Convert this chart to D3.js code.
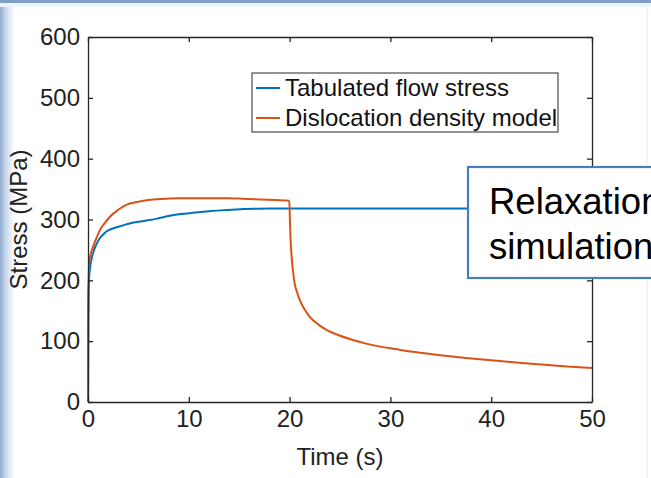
<!DOCTYPE html>
<html>
<head>
    <meta charset="utf-8" />
    <script src="https://d3js.org/d3.v7.min.js"></script>
    <title></title>
    <style>
        body { margin: 0; background: #fff; }
        text { font-family: "Liberation Sans", Arial, Helvetica, sans-serif; }
    </style>
</head>
<body>
    <svg id="chart"></svg>
    <script type="text/javascript">
        // tabulated flow stress (time s, stress MPa)
        var timeTab = [0, 0.02, 0.05, 0.1, 0.2, 0.35, 0.5, 0.8, 1.2, 1.6, 2.0, 2.6, 3.2, 3.8, 4.5, 5.3, 6.1, 7.0, 8.1, 9.2, 10.4, 11.7, 13.1, 14.7, 16.4, 18, 20, 30, 40, 50];
        var stressTab = [0, 120, 175, 200, 220, 235, 245, 258, 270, 277, 282, 286, 289, 292, 295, 297, 299, 302, 306, 309, 311, 313, 315, 316.5, 317.5, 318, 318, 318, 318, 318];

        // dislocation density model (loading, then relaxation from t = 20 s)
        var timeDis = [0, 0.03, 0.08, 0.15, 0.3, 0.5, 0.8, 1.2, 1.7, 2.2, 3.0, 3.8, 4.6, 5.5, 6.5, 7.7, 9, 10.4, 12, 13.8, 15.5, 17.1, 18.5, 19.97,
            20.03, 20.1, 20.2, 20.37, 20.5, 20.75, 21, 21.5, 22, 22.8, 23.7, 25, 26.3, 27.6, 29, 30.5, 32, 35, 37.5, 40, 42.5, 45, 47.5, 50];
        var stressDis = [0, 150, 210, 232, 245, 255, 268, 283, 295, 305, 316, 324, 328, 331, 333, 334, 335, 335, 335, 335, 334, 333, 332, 331,
            300, 266, 239, 211, 195, 180, 168, 152, 140, 128, 118, 109, 102, 96, 91, 87, 83, 77, 72.5, 68.5, 65, 61.5, 58.5, 56];

        var xTicks = [0, 10, 20, 30, 40, 50];
        var yTicks = [0, 100, 200, 300, 400, 500, 600];
        var legendLabels = ["Tabulated flow stress", "Dislocation density model"];
        var noteLines = ["Relaxation", "simulation"];

        var W = 651, H = 478;
        var pLeft = 88, pRight = 592, pTop = 37, pBottom = 402;
        var blue = "#0072BD", orange = "#D95319", axisCol = "#262626";

        var svg = d3.select("#chart").attr("width", W).attr("height", H);

        // slide frame
        var defs = svg.append("defs");
        var g1 = defs.append("linearGradient").attr("id", "lg").attr("x1", 0).attr("x2", 1);
        g1.append("stop").attr("offset", "0").attr("stop-color", "#8fabd0");
        g1.append("stop").attr("offset", "0.35").attr("stop-color", "#c3d4ea");
        g1.append("stop").attr("offset", "1").attr("stop-color", "#fafcff");
        svg.append("rect").attr("x", 0).attr("y", 0).attr("width", 14).attr("height", H).attr("fill", "url(#lg)");
        svg.append("rect").attr("x", 0).attr("y", 0).attr("width", W).attr("height", 3).attr("fill", "#7f9ec7");
        svg.append("rect").attr("x", 0).attr("y", 3).attr("width", W).attr("height", 4).attr("fill", "#eef3fa");
        svg.append("line").attr("x1", 647).attr("x2", 647).attr("y1", 7).attr("y2", H).attr("stroke", "#e6e9ee");

        var x = d3.scaleLinear().domain([0, 50]).range([pLeft, pRight]);
        var y = d3.scaleLinear().domain([0, 600]).range([pBottom, pTop]);

        // lines
        var line = d3.line().x(function (d) { return x(d[0]); }).y(function (d) { return y(d[1]); }).curve(d3.curveMonotoneX);
        var tab = timeTab.map(function (t, i) { return [t, stressTab[i]]; });
        var dis = timeDis.map(function (t, i) { return [t, stressDis[i]]; });
        svg.append("path").datum(tab).attr("d", line).attr("fill", "none").attr("stroke", blue).attr("stroke-width", 2);
        svg.append("path").datum(dis).attr("d", line).attr("fill", "none").attr("stroke", orange).attr("stroke-width", 2);

        // axes (box on, ticks inward)
        function style(g, labels) {
            g.selectAll(".domain").attr("stroke", axisCol).attr("stroke-width", 1.3);
            g.selectAll(".tick line").attr("stroke", axisCol).attr("stroke-width", 1.3);
            g.selectAll(".tick text").attr("fill", "#222").style("font-size", "24px")
                .style("font-family", "'Liberation Sans', Arial, sans-serif");
            if (!labels) g.selectAll(".tick text").remove();
        }
        svg.append("g").attr("transform", "translate(0," + pBottom + ")")
            .call(d3.axisBottom(x).tickValues(xTicks).tickSizeInner(-5).tickSizeOuter(0).tickPadding(8))
            .call(style, true);
        svg.append("g").attr("transform", "translate(0," + pTop + ")")
            .call(d3.axisTop(x).tickValues(xTicks).tickSizeInner(-5).tickSizeOuter(0))
            .call(style, false);
        svg.append("g").attr("transform", "translate(" + pLeft + ",0)")
            .call(d3.axisLeft(y).tickValues(yTicks).tickSizeInner(-5).tickSizeOuter(0).tickPadding(8))
            .call(style, true);
        svg.append("g").attr("transform", "translate(" + pRight + ",0)")
            .call(d3.axisRight(y).tickValues(yTicks).tickSizeInner(-5).tickSizeOuter(0))
            .call(style, false);

        svg.append("text").attr("x", (pLeft + pRight) / 2).attr("y", 465).attr("text-anchor", "middle")
            .style("font-size", "24px").attr("fill", "#222").text("Time (s)");
        svg.append("text").attr("transform", "translate(27," + ((pTop + pBottom) / 2) + ") rotate(-90)")
            .attr("text-anchor", "middle").style("font-size", "24px").attr("fill", "#222").text("Stress (MPa)");

        // legend
        var lg = svg.append("g").attr("transform", "translate(252,73)");
        lg.append("rect").attr("width", 306).attr("height", 59).attr("fill", "#fff")
            .attr("stroke", axisCol).attr("stroke-width", 1);
        [blue, orange].forEach(function (c, i) {
            var cy = 15 + i * 30;
            lg.append("line").attr("x1", 4).attr("x2", 28).attr("y1", cy).attr("y2", cy)
                .attr("stroke", c).attr("stroke-width", 2);
            lg.append("text").attr("x", 33).attr("y", cy + 8).style("font-size", "24px").attr("fill", "#111")
                .text(legendLabels[i]);
        });

        // annotation box (runs off the right edge of the slide)
        svg.append("rect").attr("x", 468).attr("y", 167).attr("width", 220).attr("height", 111)
            .attr("fill", "#fff").attr("stroke", "#4a7ebb").attr("stroke-width", 2.2);
        noteLines.forEach(function (s, i) {
            svg.append("text").attr("x", 489).attr("y", 214 + i * 45).style("font-size", "36.5px")
                .attr("fill", "#000").text(s);
        });
    </script>
</body>
</html>
